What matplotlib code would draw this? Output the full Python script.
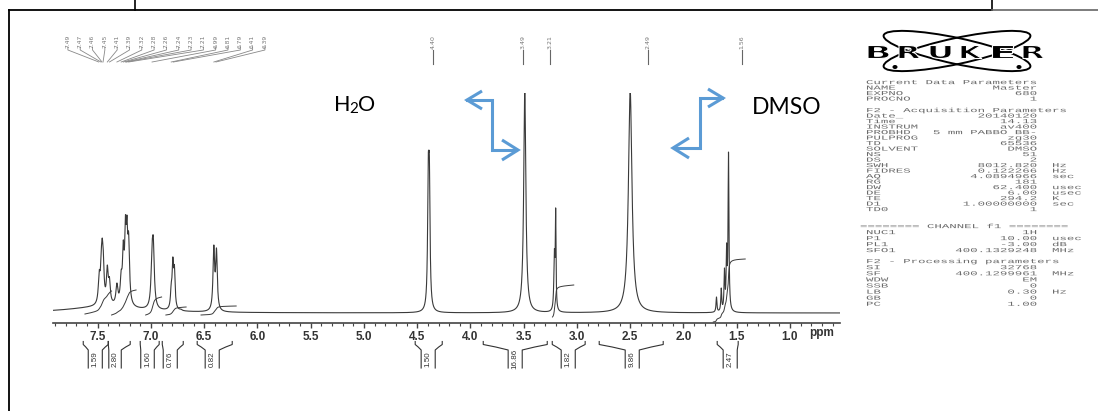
import numpy as np
import matplotlib.pyplot as plt
from matplotlib.transforms import Affine2D, blended_transform_factory
from matplotlib.textpath import TextPath
from matplotlib.font_manager import FontProperties
from matplotlib.patches import PathPatch, Ellipse

W, H = 1098, 411

# spectrum lines: shift (ppm), apex height (a.u. above baseline), half width (ppm)
line_ppm = [7.486, 7.467, 7.458, 7.448, 7.410, 7.390, 7.320, 7.280, 7.260, 7.240, 7.226, 7.210,
            6.990, 6.978, 6.860, 6.810, 6.795, 6.780, 6.720, 6.410, 6.385,
            4.396, 4.386, 3.490, 3.212, 3.200, 2.500,
            1.690, 1.645, 1.615, 1.595, 1.577]
line_apex = [43, 63, 75, 63, 48, 36, 30, 43, 73, 98, 98, 81,
             70, 76, 3, 30, 56, 48, 4, 68, 65,
             158, 158, 222, 64, 105, 222,
             16, 25, 45, 70, 161]
line_hw = [0.010, 0.009, 0.009, 0.009, 0.010, 0.010, 0.011, 0.010, 0.009, 0.008, 0.008, 0.010,
           0.011, 0.011, 0.012, 0.008, 0.008, 0.008, 0.012, 0.009, 0.009,
           0.0075, 0.0075, 0.012, 0.006, 0.004, 0.02,
           0.005, 0.005, 0.005, 0.005, 0.005]
hump_ppm, hump_height, hump_hw = 7.45, 6.0, 0.4

# integral traces
int_from = [7.62, 7.37, 7.05, 6.86, 6.53, 3.23, 1.72]
int_to = [7.37, 7.14, 6.90, 6.67, 6.20, 3.03, 1.42]
int_start = [-1, -2, -2, -2, -2, -4, -9]
int_rise = [23, 25, 18, 8, 9, 32, 63]

# integration brackets below the axis
br_from = [7.636, 7.401, 7.101, 6.894, 6.566, 4.519, 3.880, 3.232, 2.791, 1.683]
br_to = [7.401, 7.195, 6.923, 6.697, 6.237, 4.265, 3.279, 2.923, 2.190, 1.486]
br_mid = [7.523, 7.345, 7.035, 6.819, 6.425, 4.397, 3.580, 3.082, 2.481, 1.561]
br_value = ['1.59', '2.80', '1.60', '0.76', '0.82', '1.50', '16.86', '1.82', '9.86', '2.47']

# peak pick labels
arom_labels = [7.49, 7.47, 7.46, 7.45, 7.41, 7.39, 7.32, 7.28, 7.26, 7.24, 7.23, 7.21,
               6.99, 6.81, 6.79, 6.41, 6.39]
main_labels = [4.40, 3.49, 3.21, 2.49, 1.56]
main_label_pos = [4.35, 3.51, 3.25, 2.33, 1.45]

major_ticks = np.arange(1.0, 7.51, 0.5)
minor_ticks = np.arange(0.6, 7.91, 0.1)

# Bruker parameter listing
params_1 = [('NAME', 'Master', ''), ('EXPNO', '680', ''), ('PROCNO', '1', '')]
params_2 = [('Date_', '20140120', ''), ('Time', '14.13', ''), ('INSTRUM', 'av400', ''),
            ('PROBHD', '5 mm PABBO BB-', ''), ('PULPROG', 'zg30', ''), ('TD', '65536', ''),
            ('SOLVENT', 'DMSO', ''), ('NS', '51', ''), ('DS', '2', ''),
            ('SWH', '8012.820', 'Hz'), ('FIDRES', '0.122266', 'Hz'), ('AQ', '4.0894966', 'sec'),
            ('RG', '181', ''), ('DW', '62.400', 'usec'), ('DE', '6.00', 'usec'),
            ('TE', '294.2', 'K'), ('D1', '1.00000000', 'sec'), ('TD0', '1', '')]
params_3 = [('NUC1', '1H', ''), ('P1', '10.00', 'usec'), ('PL1', '-3.00', 'dB'),
            ('SFO1', '400.1329248', 'MHz')]
params_4 = [('SI', '32768', ''), ('SF', '400.1299961', 'MHz'), ('WDW', 'EM', ''),
            ('SSB', '0', ''), ('LB', '0.30', 'Hz'), ('GB', '0', ''), ('PC', '1.00', '')]

fig = plt.figure(figsize=(W / 100, H / 100), dpi=100)
page = fig.add_axes([0, 0, 1, 1])
page.set_xlim(0, W)
page.set_ylim(H, 0)
page.axis('off')

ax = fig.add_axes([53 / W, 1 - 323 / H, (840 - 53) / W, (323 - 93) / H])
ax.patch.set_alpha(0)
ax.set_xlim(7.92, 0.53)
ax.set_ylim(-10, 220)
for s in ('left', 'right', 'top'):
    ax.spines[s].set_visible(False)
ax.spines['bottom'].set_color('#444444')
ax.spines['bottom'].set_linewidth(1.2)
ax.set_yticks([])
ax.set_xticks(major_ticks, [f'{v:.1f}' for v in major_ticks],
              fontweight='bold', fontfamily='Liberation Sans', fontsize=8.5, color='#333333')
ax.set_xticks(minor_ticks, minor=True)
ax.tick_params(axis='x', which='major', length=3.5, width=1, pad=2.5, color='#444444')
ax.tick_params(axis='x', which='minor', length=2, width=0.8, color='#444444')
ax.text(0.70, -14, 'ppm', ha='center', va='top', fontsize=8.5, fontweight='bold',
        family='Liberation Sans', color='#333333', clip_on=False)

# spectrum: Lorentzian lines scaled so the apexes match the read heights
c = np.array(line_ppm)
w = np.array(line_hw)
A = 1.0 / (1.0 + ((c[:, None] - c[None, :]) / w[None, :]) ** 2)
base = hump_height / (1 + ((c - hump_ppm) / hump_hw) ** 2)
amp = np.clip(np.linalg.solve(A, np.array(line_apex) - base), 0, None)

x = np.linspace(7.92, 0.53, 30000)
y = hump_height / (1 + ((x - hump_ppm) / hump_hw) ** 2)
for ci, wi, ai in zip(c, w, amp):
    y = y + ai / (1 + ((x - ci) / wi) ** 2)
ax.plot(x, y, color='#3a3a3a', lw=0.8)

# integral traces
for a, b, y0, r in zip(int_from, int_to, int_start, int_rise):
    m = (x <= a) & (x >= b)
    cum = np.cumsum(y[m])
    cum = (cum - cum[0]) / (cum[-1] - cum[0])
    ax.plot(x[m], y0 + r * cum, color='#3a3a3a', lw=0.7)

bt = blended_transform_factory(ax.transData, page.transData)

# integration brackets
for a, b, mid, val in zip(br_from, br_to, br_mid, br_value):
    vl = min(mid + 0.066, a - 0.005)
    vr = max(mid - 0.066, b + 0.005)
    ax.plot([vl, vl, (vl + a) / 2, a, a], [368, 350, 347, 344.5, 341.5], transform=bt,
            color='#333333', lw=0.8, clip_on=False)
    ax.plot([vr, vr, (vr + b) / 2, b, b], [368, 350, 347, 344.5, 341.5], transform=bt,
            color='#333333', lw=0.8, clip_on=False)
    ax.text((vl + vr) / 2, 359, val, transform=bt, rotation=90, ha='center', va='center',
            fontsize=5.8, family='Liberation Sans', color='#333333', clip_on=False)

# peak labels
arom_pos = np.linspace(7.78, 5.93, len(arom_labels))
for pos, val in zip(arom_pos, arom_labels):
    ax.text(pos, 41, f'{val:.2f}', transform=bt, rotation=90, ha='center', va='center',
            fontsize=4.3, family='DejaVu Sans', color='#777777', clip_on=False)
    ax.plot([pos, pos, val], [47, 50, 62], transform=bt, color='#888888', lw=0.6, clip_on=False)
for pos, val in zip(main_label_pos, main_labels):
    ax.text(pos, 42, f'{val:.2f}', transform=bt, rotation=90, ha='center', va='center',
            fontsize=4.5, family='DejaVu Sans', color='#777777', clip_on=False)
    ax.plot([pos, pos], [50, 64], transform=bt, color='#666666', lw=0.8, clip_on=False)

# frames
page.plot([135, 135], [0, 10], color='black', lw=1.2)
page.plot([992, 992], [0, 10], color='black', lw=1.2)
page.plot([9, 992], [10, 10], color='black', lw=1.3)
page.plot([992, W], [10, 10], color='#666666', lw=1.2)
page.plot([9, 9], [10, H], color='black', lw=1.3)

# annotations
blue = '#5B9BD5'
def chevron(tx, ty, dx, dy):
    page.plot([tx + dx, tx, tx + dx], [ty - dy, ty, ty + dy], color=blue, lw=2.2,
              solid_joinstyle='miter', solid_capstyle='butt')

page.plot([467, 492, 492, 516], [100, 100, 150, 150], color=blue, lw=2.2, solid_joinstyle='miter')
chevron(467, 100, 15, 9)
chevron(518, 150, -16, 10)
page.plot([722, 700, 700, 675], [98, 98, 148, 148], color=blue, lw=2.2, solid_joinstyle='miter')
chevron(723, 98, -15, 9)
chevron(673, 148, 16, 10)

page.text(334, 105, 'H', fontsize=15.5, family='Lato', va='center', ha='left')
page.text(349, 109, '2', fontsize=11, family='Lato', va='center', ha='left')
page.text(358, 105, 'O', fontsize=15.5, family='Lato', va='center', ha='left')
page.text(752, 107, 'DMSO', fontsize=16.5, family='Lato', va='center', ha='left')

# Bruker logo
page.add_patch(Ellipse((957, 51), 150, 26, angle=12, fill=False, ec='black', lw=1.4))
page.add_patch(Ellipse((957, 51), 150, 26, angle=-12, fill=False, ec='black', lw=1.4))
page.add_patch(Ellipse((895, 67), 5, 4, fc='black'))
page.add_patch(Ellipse((1019, 67), 5, 4, fc='black'))
logo_font = FontProperties(family='DejaVu Sans', weight='bold')
for i, ch in enumerate('BRUKER'):
    tp = TextPath((0, 0), ch, size=1, prop=logo_font)
    ext = tp.get_extents()
    tr = (Affine2D().translate(-ext.x0, -ext.y0)
          .scale(21 / ext.width, -13 / ext.height).translate(868 + i * 31, 58.5))
    page.add_patch(PathPatch(tr.transform_path(tp), fc='black', ec='white', lw=0.8, zorder=3))

# parameter listing in a stretched mono face
mono = FontProperties(family='Liberation Mono')
def mono_line(x0, yc, s, pitch=7.44, cap=4.2):
    tp = TextPath((0, 0), s, size=1, prop=mono)
    tr = Affine2D().scale(pitch / 0.6, -cap / 0.69).translate(x0, yc + cap / 2)
    page.add_patch(PathPatch(tr.transform_path(tp), fc='#6a6a6a', ec='none', lw=0))

def fmt(key, val, unit):
    s = key + val.rjust(23 - len(key))
    return s + ('  ' + unit if unit else '')

blocks = [(866, 82, 5.5, 'Current Data Parameters', params_1),
          (866, 110, 5.5, 'F2 - Acquisition Parameters', params_2),
          (866, 226, 6.0, '', params_3),
          (866, 261, 6.1, 'F2 - Processing parameters', params_4)]
for x0, y0, pitch, head, rows in blocks:
    if head:
        mono_line(x0, y0, head)
    for k, (key, val, unit) in enumerate(rows):
        mono_line(x0, y0 + (k + 1) * pitch, fmt(key, val, unit))
mono_line(860, 226, '======== CHANNEL f1 ========')

fig.savefig('out.png', dpi=100, facecolor='white')
